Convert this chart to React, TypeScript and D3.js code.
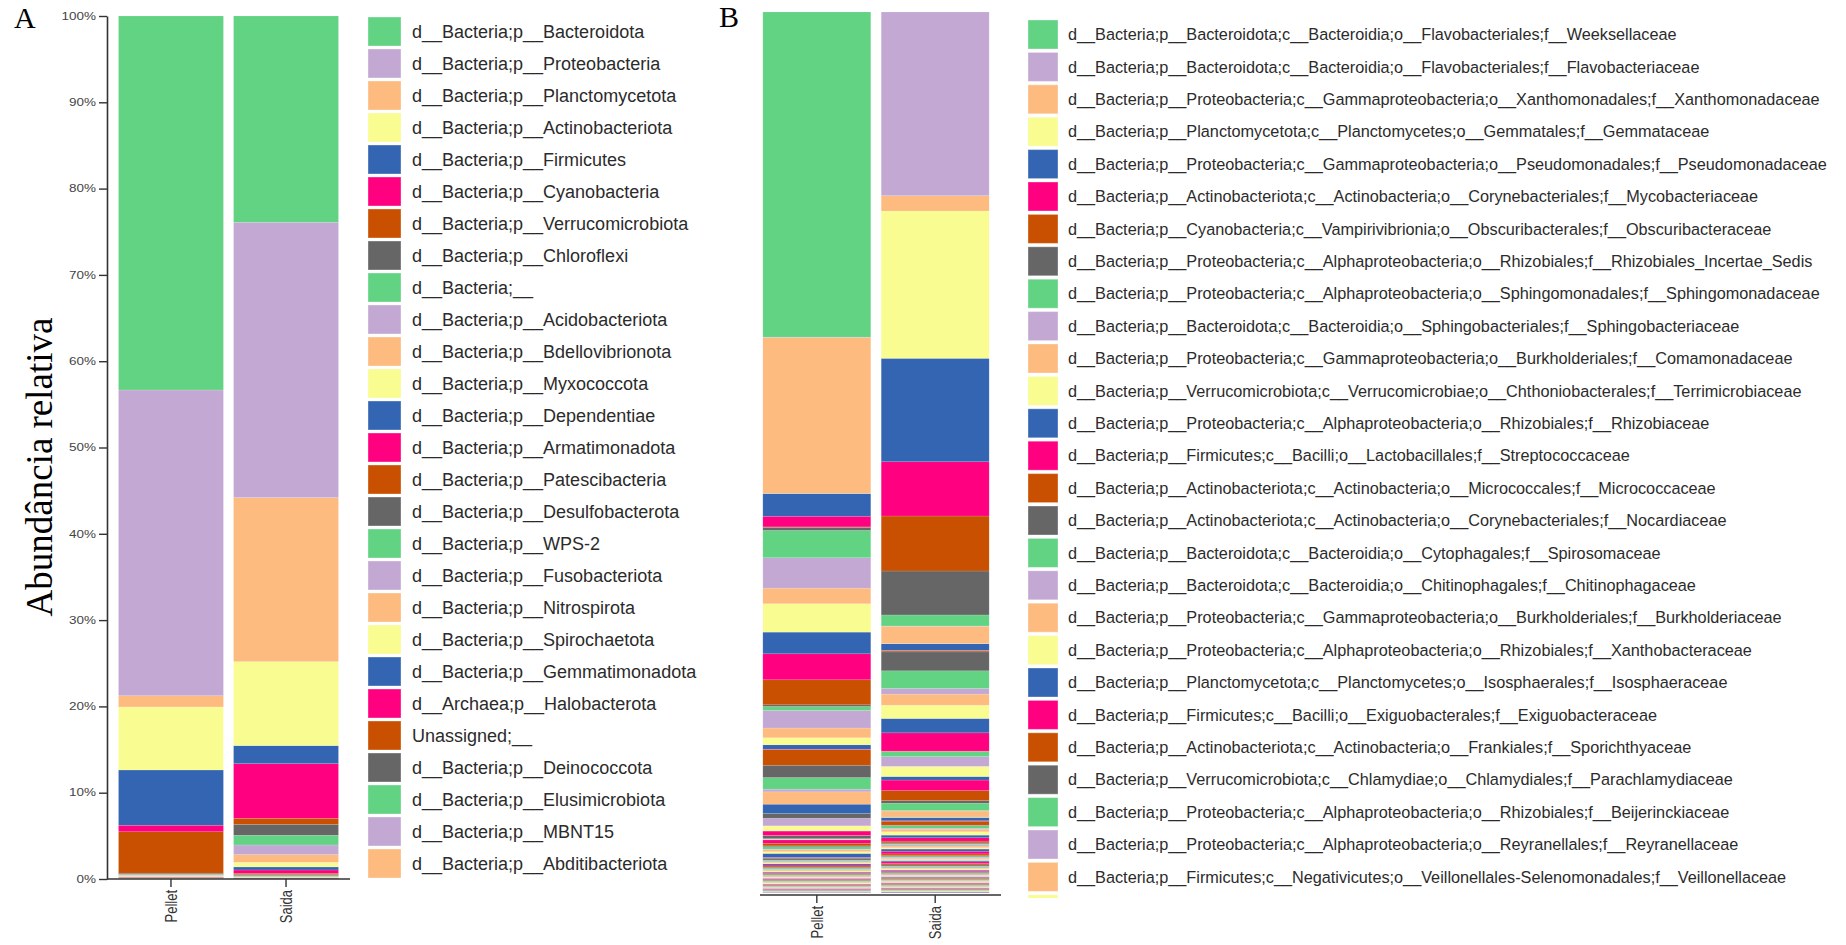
import React, { useEffect, useRef } from "react";
import * as d3 from "d3";

// Samples shown on the x axis of both panels
const samples = ["Pellet", "Saida"];

// Accent-like palette, cycled through the taxa in legend order
const palette = ["#62d283", "#c3a8d4", "#fdbb80", "#f9fc91", "#3465b2", "#ff0080", "#c85000", "#666666"];

// Panel A: phylum level (legend order = stacking order from the top)
const phylumNames = [
  "d__Bacteria;p__Bacteroidota",
  "d__Bacteria;p__Proteobacteria",
  "d__Bacteria;p__Planctomycetota",
  "d__Bacteria;p__Actinobacteriota",
  "d__Bacteria;p__Firmicutes",
  "d__Bacteria;p__Cyanobacteria",
  "d__Bacteria;p__Verrucomicrobiota",
  "d__Bacteria;p__Chloroflexi",
  "d__Bacteria;__",
  "d__Bacteria;p__Acidobacteriota",
  "d__Bacteria;p__Bdellovibrionota",
  "d__Bacteria;p__Myxococcota",
  "d__Bacteria;p__Dependentiae",
  "d__Bacteria;p__Armatimonadota",
  "d__Bacteria;p__Patescibacteria",
  "d__Bacteria;p__Desulfobacterota",
  "d__Bacteria;p__WPS-2",
  "d__Bacteria;p__Fusobacteriota",
  "d__Bacteria;p__Nitrospirota",
  "d__Bacteria;p__Spirochaetota",
  "d__Bacteria;p__Gemmatimonadota",
  "d__Archaea;p__Halobacterota",
  "Unassigned;__",
  "d__Bacteria;p__Deinococcota",
  "d__Bacteria;p__Elusimicrobiota",
  "d__Bacteria;p__MBNT15",
  "d__Bacteria;p__Abditibacteriota",
];
const phylumPellet = [43.3, 35.4, 1.3, 7.3, 6.4, 0.75, 4.8, 0.12, 0.08, 0.06, 0.1, 0.05, 0.04, 0.03, 0.05, 0.03, 0.02, 0.02, 0.02, 0.01, 0.01, 0.01, 0.005, 0.005, 0.005, 0.005, 0.003];
const phylumSaida = [23.9, 31.9, 19.0, 9.73, 2.09, 6.33, 0.7, 1.27, 1.12, 1.12, 0.89, 0.54, 0.35, 0.38, 0.15, 0.12, 0.1, 0.06, 0.05, 0.05, 0.04, 0.03, 0.02, 0.02, 0.01, 0.01, 0.005];

// Panel B: family level (only the first 27 names fit in the legend)
const familyNames = [
  "d__Bacteria;p__Bacteroidota;c__Bacteroidia;o__Flavobacteriales;f__Weeksellaceae",
  "d__Bacteria;p__Bacteroidota;c__Bacteroidia;o__Flavobacteriales;f__Flavobacteriaceae",
  "d__Bacteria;p__Proteobacteria;c__Gammaproteobacteria;o__Xanthomonadales;f__Xanthomonadaceae",
  "d__Bacteria;p__Planctomycetota;c__Planctomycetes;o__Gemmatales;f__Gemmataceae",
  "d__Bacteria;p__Proteobacteria;c__Gammaproteobacteria;o__Pseudomonadales;f__Pseudomonadaceae",
  "d__Bacteria;p__Actinobacteriota;c__Actinobacteria;o__Corynebacteriales;f__Mycobacteriaceae",
  "d__Bacteria;p__Cyanobacteria;c__Vampirivibrionia;o__Obscuribacterales;f__Obscuribacteraceae",
  "d__Bacteria;p__Proteobacteria;c__Alphaproteobacteria;o__Rhizobiales;f__Rhizobiales_Incertae_Sedis",
  "d__Bacteria;p__Proteobacteria;c__Alphaproteobacteria;o__Sphingomonadales;f__Sphingomonadaceae",
  "d__Bacteria;p__Bacteroidota;c__Bacteroidia;o__Sphingobacteriales;f__Sphingobacteriaceae",
  "d__Bacteria;p__Proteobacteria;c__Gammaproteobacteria;o__Burkholderiales;f__Comamonadaceae",
  "d__Bacteria;p__Verrucomicrobiota;c__Verrucomicrobiae;o__Chthoniobacterales;f__Terrimicrobiaceae",
  "d__Bacteria;p__Proteobacteria;c__Alphaproteobacteria;o__Rhizobiales;f__Rhizobiaceae",
  "d__Bacteria;p__Firmicutes;c__Bacilli;o__Lactobacillales;f__Streptococcaceae",
  "d__Bacteria;p__Actinobacteriota;c__Actinobacteria;o__Micrococcales;f__Micrococcaceae",
  "d__Bacteria;p__Actinobacteriota;c__Actinobacteria;o__Corynebacteriales;f__Nocardiaceae",
  "d__Bacteria;p__Bacteroidota;c__Bacteroidia;o__Cytophagales;f__Spirosomaceae",
  "d__Bacteria;p__Bacteroidota;c__Bacteroidia;o__Chitinophagales;f__Chitinophagaceae",
  "d__Bacteria;p__Proteobacteria;c__Gammaproteobacteria;o__Burkholderiales;f__Burkholderiaceae",
  "d__Bacteria;p__Proteobacteria;c__Alphaproteobacteria;o__Rhizobiales;f__Xanthobacteraceae",
  "d__Bacteria;p__Planctomycetota;c__Planctomycetes;o__Isosphaerales;f__Isosphaeraceae",
  "d__Bacteria;p__Firmicutes;c__Bacilli;o__Exiguobacterales;f__Exiguobacteraceae",
  "d__Bacteria;p__Actinobacteriota;c__Actinobacteria;o__Frankiales;f__Sporichthyaceae",
  "d__Bacteria;p__Verrucomicrobiota;c__Chlamydiae;o__Chlamydiales;f__Parachlamydiaceae",
  "d__Bacteria;p__Proteobacteria;c__Alphaproteobacteria;o__Rhizobiales;f__Beijerinckiaceae",
  "d__Bacteria;p__Proteobacteria;c__Alphaproteobacteria;o__Reyranellales;f__Reyranellaceae",
  "d__Bacteria;p__Firmicutes;c__Negativicutes;o__Veillonellales-Selenomonadales;f__Veillonellaceae",
];
// 102 families: the 27 named above followed by the long tail of minor families
const familyPellet = [
  36.9, 0.03, 17.7, 0.02, 2.58, 1.21, 0.05, 0.35, 3.1, 3.45, 1.77, 3.22, 2.46, 2.95, 2.84, 0.19, 0.45, 2.0, 1.1, 0.8, 0.5, 0.05, 1.77, 1.4, 1.32, 0.3, 1.4,
  0, 1.06, 0, 0, 0.53, 0, 0.87, 0, 0.57, 0.02, 0.5, 0.02, 0.34, 0.05, 0.03, 0.02, 0.02, 0.02, 0.38, 0.3, 0.1, 0.26, 0.05, 0.25, 0.2, 0.45, 0.05, 0.04, 0.2, 0.1, 0.12, 0.1, 0.1, 0.15, 0.12,
  0.14, 0.1, 0.12, 0.09, 0.11, 0.08, 0.1, 0.09, 0.12, 0.07, 0.09, 0.1, 0.08, 0.09, 0.07, 0.08, 0.1, 0.06, 0.08, 0.09,
  0.07, 0.08, 0.06, 0.07, 0.08, 0.06, 0.07, 0.06, 0.07, 0.05, 0.07, 0.06, 0.05, 0.06, 0.05, 0.06, 0.05, 0.04, 0.05, 0.04,
];
const familySaida = [
  0, 20.85, 1.74, 16.72, 11.74, 6.16, 6.24, 4.99, 1.25, 0.03, 1.96, 0.02, 0.76, 0.02, 0.15, 2.15, 2.0, 0.65, 1.25, 1.51, 1.63, 2.08, 0.03, 0.02, 0.57, 1.1, 0.02,
  1.14, 0.4, 1.2, 1.13, 0.3, 0.83, 0.05, 0.68, 0.05, 0.38, 0.05, 0.45, 0.05, 0.3, 0.1, 0.3, 0.38, 0.3, 0.38, 0.2, 0.1, 0.1, 0.15, 0.2, 0.15, 0.25, 0.3, 0.2, 0.1, 0.1, 0.1, 0.15, 0.1, 0.15, 0.2,
  0.15, 0.12, 0.1, 0.13, 0.09, 0.11, 0.1, 0.12, 0.08, 0.1, 0.09, 0.11, 0.08, 0.09, 0.1, 0.07, 0.09, 0.08, 0.1, 0.07,
  0.08, 0.09, 0.07, 0.08, 0.07, 0.09, 0.06, 0.08, 0.07, 0.06, 0.08, 0.06, 0.07, 0.06, 0.07, 0.05, 0.06, 0.05, 0.06, 0.05,
];

const yTicks = [0, 0.1, 0.2, 0.3, 0.4, 0.5, 0.6, 0.7, 0.8, 0.9, 1];

const SANS = "'Liberation Sans', Arial, Helvetica, sans-serif";
const SERIF = "'Liberation Serif', 'Times New Roman', serif";

type PanelCfg = {
  id: string;
  names: string[];
  pellet: number[];
  saida: number[];
  xRange: [number, number];
  yRange: [number, number];
  axisY: number;
  axisStart: number;
  showYAxis: boolean;
  legendX: number;
  legendTextX: number;
  legendTop: number;
  legendStep: number;
  swatchW: number;
  swatchH: number;
  fontSize: number;
  legendClip: number;
};

function drawPanel(svg: d3.Selection<SVGSVGElement, unknown, null, undefined>, cfg: PanelCfg) {
  const g = svg.append("g").attr("class", `panel-${cfg.id}`);
  const keys = cfg.pellet.map((_, i) => i);
  const rows = samples.map((s, si) => {
    const r: any = { sample: s };
    const src = si === 0 ? cfg.pellet : cfg.saida;
    keys.forEach((k) => (r[k] = src[k]));
    return r;
  });

  // first taxon sits on top of the column, so stack in reverse legend order
  const stack = d3
    .stack<any, number>()
    .keys([...keys].reverse())
    .offset(d3.stackOffsetExpand);
  const series = stack(rows);

  const x = d3.scaleBand<string>().domain(samples).range(cfg.xRange).paddingInner(0.088).paddingOuter(0.1);
  const y = d3.scaleLinear().domain([0, 1]).range(cfg.yRange);

  const color = (k: number) => palette[k % palette.length];

  g.append("g")
    .selectAll("g")
    .data(series)
    .join("g")
    .attr("fill", (s) => color(s.key as number))
    .selectAll("rect")
    .data((s) => s.map((d) => ({ d, sample: d.data.sample })))
    .join("rect")
    .attr("x", (p) => x(p.sample)!)
    .attr("width", x.bandwidth())
    .attr("y", (p) => y(p.d[1]))
    .attr("height", (p) => Math.max(0, y(p.d[0]) - y(p.d[1])))
    .attr("stroke", "#ffffff")
    .attr("stroke-opacity", 0.22)
    .attr("stroke-width", 0.6);

  // x axis
  const xAxis = d3.axisBottom(x).tickSize(8).tickSizeOuter(0);
  const xg = g.append("g").attr("transform", `translate(0,${cfg.axisY})`).call(xAxis);
  xg.select(".domain").remove();
  xg.append("line")
    .attr("x1", cfg.axisStart)
    .attr("x2", cfg.xRange[1])
    .attr("stroke", "#333")
    .attr("stroke-width", 1.6);
  xg.selectAll(".tick line").attr("stroke", "#333").attr("stroke-width", 1.4);
  xg.selectAll(".tick text")
    .attr("transform", "scale(1.25,1) rotate(-90)")
    .attr("x", -11)
    .attr("y", 0)
    .attr("dy", "0.35em")
    .attr("text-anchor", "end")
    .attr("fill", "#333")
    .style("font-family", SANS)
    .style("font-size", "13px");

  // y axis (panel A only)
  if (cfg.showYAxis) {
    const yAxis = d3
      .axisLeft(y)
      .tickValues(yTicks)
      .tickFormat(d3.format(".0%"))
      .tickSize(8)
      .tickSizeOuter(0);
    const yg = g.append("g").attr("transform", `translate(${cfg.xRange[0]},0)`).call(yAxis);
    yg.select(".domain").attr("stroke", "#333").attr("stroke-width", 1.6);
    yg.selectAll(".tick line").attr("stroke", "#333").attr("stroke-width", 1.4);
    yg.selectAll(".tick text")
      .attr("x", -11 / 1.35)
      .attr("transform", "scale(1.35,1)")
      .attr("fill", "#444")
      .style("font-family", SANS)
      .style("font-size", "10px");
  }

  // legend
  const clipId = `legend-clip-${cfg.id}`;
  svg
    .append("defs")
    .append("clipPath")
    .attr("id", clipId)
    .append("rect")
    .attr("x", cfg.legendX - 5)
    .attr("y", 0)
    .attr("width", 1846 - cfg.legendX + 5)
    .attr("height", cfg.legendClip);

  const lg = g.append("g").attr("clip-path", `url(#${clipId})`);
  const item = lg
    .selectAll("g")
    .data(keys)
    .join("g")
    .attr("transform", (k) => `translate(0,${cfg.legendTop + k * cfg.legendStep})`);
  item
    .append("rect")
    .attr("x", cfg.legendX)
    .attr("width", cfg.swatchW)
    .attr("height", cfg.swatchH)
    .attr("fill", (k) => color(k))
    .attr("stroke", "#ffffff")
    .attr("stroke-opacity", 0.35)
    .attr("stroke-width", 1);
  item
    .filter((k) => k < cfg.names.length)
    .append("text")
    .attr("x", cfg.legendTextX)
    .attr("y", cfg.swatchH / 2)
    .attr("dy", "0.35em")
    .attr("fill", "#2b2b2b")
    .style("font-family", SANS)
    .style("font-size", `${cfg.fontSize}px`)
    .text((k) => cfg.names[k]);
}

export default function App() {
  const ref = useRef<SVGSVGElement | null>(null);

  useEffect(() => {
    const svg = d3.select(ref.current!);
    svg.selectAll("*").remove();

    drawPanel(svg, {
      id: "a",
      names: phylumNames,
      pellet: phylumPellet,
      saida: phylumSaida,
      xRange: [107, 350],
      yRange: [879, 16],
      axisY: 879,
      axisStart: 107,
      showYAxis: true,
      legendX: 368,
      legendTextX: 412,
      legendTop: 17,
      legendStep: 32,
      swatchW: 33,
      swatchH: 29,
      fontSize: 18,
      legendClip: 945,
    });

    drawPanel(svg, {
      id: "b",
      names: familyNames,
      pellet: familyPellet,
      saida: familySaida,
      xRange: [751, 1001],
      yRange: [893, 12],
      axisY: 895,
      axisStart: 760,
      showYAxis: false,
      legendX: 1028,
      legendTextX: 1068,
      legendTop: 20,
      legendStep: 32.4,
      swatchW: 30,
      swatchH: 29,
      fontSize: 16.25,
      legendClip: 898,
    });

    // y axis title and panel letters
    svg
      .append("text")
      .attr("transform", "translate(52,467) rotate(-90)")
      .attr("text-anchor", "middle")
      .attr("fill", "#000")
      .style("font-family", SERIF)
      .style("font-size", "37px")
      .text("Abundância relativa");
    svg
      .append("text")
      .attr("x", 14)
      .attr("y", 28)
      .attr("fill", "#000")
      .style("font-family", SERIF)
      .style("font-size", "30px")
      .text("A");
    svg
      .append("text")
      .attr("x", 719)
      .attr("y", 27)
      .attr("fill", "#000")
      .style("font-family", SERIF)
      .style("font-size", "30px")
      .text("B");
  }, []);

  return (
    <svg
      ref={ref}
      width={1846}
      height={945}
      style={{ position: "absolute", left: 0, top: 0, display: "block", background: "#fff" }}
    />
  );
}
